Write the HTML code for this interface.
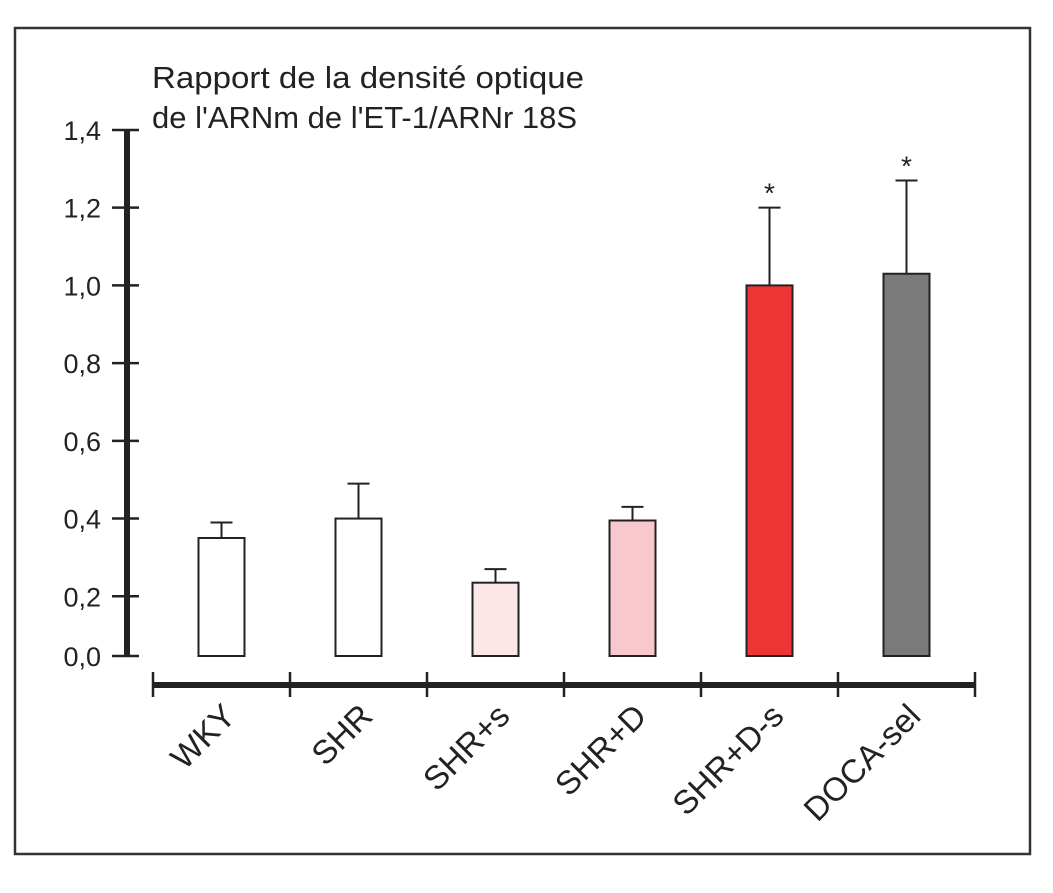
<!DOCTYPE html>
<html><head><meta charset="utf-8"><style>
body{margin:0;background:#fff;}
svg{display:block;font-family:"Liberation Sans",sans-serif;}
</style></head><body>
<svg id="chart" width="1053" height="893">
<rect x="15" y="28" width="1015" height="826" fill="none" stroke="#333" stroke-width="2.5"/>
<text x="152" y="88" font-size="31" textLength="432" lengthAdjust="spacingAndGlyphs" fill="#222">Rapport de la densité optique</text>
<text x="152" y="128" font-size="31" textLength="425" lengthAdjust="spacingAndGlyphs" fill="#222">de l'ARNm de l'ET-1/ARNr 18S</text>
<g id="axes"></g>
<g id="bars"></g>
</svg>
<script>
const categories=["WKY","SHR","SHR+s","SHR+D","SHR+D-s","DOCA-sel"];
const values=[0.35,0.40,0.235,0.395,1.0,1.03];
const errors=[0.04,0.09,0.035,0.035,0.20,0.24];
const significant=[false,false,false,false,true,true];
const fills=["#ffffff","#ffffff","#fce6e8","#f8c8ce","#ee3535","#7a7a7a"];
const yTicks=[0,0.2,0.4,0.6,0.8,1.0,1.2,1.4];
const yTickLabels=["0,0","0,2","0,4","0,6","0,8","1,0","1,2","1,4"];
const NS="http://www.w3.org/2000/svg";
function y(v){return 674-v*388.6;}
const baseY=656;
function xCenter(i){return 153+(i+0.5)*137;}
const axes=document.getElementById('axes'),bars=document.getElementById('bars');
function mk(tag,attrs,parent){const e=document.createElementNS(NS,tag);for(const k in attrs)e.setAttribute(k,attrs[k]);parent.appendChild(e);return e;}
let ya=mk('line',{x1:127,x2:127,y1:y(1.4),y2:baseY,stroke:'#222','stroke-width':6},axes);


yTicks.forEach((t,i)=>{const ty=t===0?baseY:y(t);
 const l=mk('line',{x1:112,x2:139,y1:ty,y2:ty,stroke:'#222','stroke-width':2.5},axes);
 
 
 const tx=mk('text',{x:101,y:ty+10,'font-size':27,'text-anchor':'end',fill:'#222'},axes);tx.textContent=yTickLabels[i];
 
 
});
let xa=mk('line',{x1:153,x2:975,y1:685,y2:685,stroke:'#222','stroke-width':6},axes);


for(let i=0;i<=categories.length;i++){const tx=153+i*137;
 const l=mk('line',{x1:tx,x2:tx,y1:672,y2:697,stroke:'#222','stroke-width':2.5},axes);
 
 
}
categories.forEach((c,i)=>{
 const cx=xCenter(i);
 const top=y(values[i]),etop=y(values[i]+errors[i]);
 const el=mk('line',{x1:cx,x2:cx,y1:etop,y2:top,stroke:'#222','stroke-width':2},bars);
 
 
 const cap=mk('line',{x1:cx-11,x2:cx+11,y1:etop,y2:etop,stroke:'#222','stroke-width':2},bars);
 
 
 const r=mk('rect',{x:cx-23,y:top,width:46,height:baseY-top,fill:fills[i],stroke:'#222','stroke-width':2},bars);
 
 
 if(significant[i]){const s=mk('text',{x:cx,y:etop-5,'font-size':28,'text-anchor':'middle',fill:'#222'},bars);s.textContent='*';
  
  }
 const lb=mk('text',{x:cx+16,y:718,'font-size':33,'text-anchor':'end',fill:'#222',transform:`rotate(-45 ${cx+16} 718)`},bars);
 lb.textContent=c;
 
 
});
</script>
</body></html>
